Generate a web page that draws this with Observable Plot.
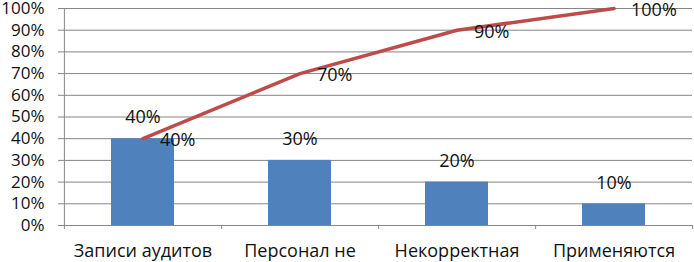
<!DOCTYPE html>
<html>
<head>
<meta charset="utf-8">
<script src="https://cdn.jsdelivr.net/npm/d3@7"></script>
<script src="https://cdn.jsdelivr.net/npm/@observablehq/plot@0.6"></script>
<style>
  html, body { margin: 0; padding: 0; background: #fff; }
</style>
</head>
<body>
<div id="chart"></div>
<script>
const categories = ["Записи аудитов", "Персонал не", "Некорректная", "Применяются"];
const shares = [0.40, 0.30, 0.20, 0.10];
const cumulative = [0.40, 0.70, 0.90, 1.00];
const yTicks = [0, 0.1, 0.2, 0.3, 0.4, 0.5, 0.6, 0.7, 0.8, 0.9, 1.0];

const data = categories.map((c, i) => ({cat: c, share: shares[i], cum: cumulative[i]}));
const fmt = d3.format(".0%");

const W = 694, H = 262, ML = 63, MR = 2, MT = 8, MB = 37;
const step = (W - ML - MR) / categories.length;
const grid = "#868686";
const font = "Open Sans";

const chart = Plot.plot({
  width: W, height: H,
  marginLeft: ML, marginRight: MR, marginTop: MT, marginBottom: MB,
  style: {fontFamily: font, fontSize: "17.5px", color: "#000", background: "#fff", overflow: "visible"},
  x: {domain: categories, paddingInner: 0.6, paddingOuter: 0.3, axis: null},
  y: {domain: [0, 1], axis: null},
  marks: [
    Plot.ruleY(yTicks, {stroke: grid, strokeWidth: 1}),
    Plot.ruleX([categories[0]], {x: d => d, dx: -step / 2, stroke: grid, strokeWidth: 1, insetBottom: -4}),
    Plot.axisY({ticks: yTicks, tickFormat: fmt, tickSize: 5, tickPadding: 14, stroke: grid, fill: "#111", fontSize: 17, label: null}),
    Plot.axisX({tickSize: 4, tickFormat: () => "", dx: step / 2, stroke: grid, label: null}),
    Plot.axisX({tickSize: 0, tickPadding: 19, fill: "#111", fontSize: 18, label: null}),
    Plot.barY(data, {x: "cat", y: "share", fill: "#4F81BD"}),
    Plot.line(data, {x: "cat", y: "cum", stroke: "#BE4B4A", strokeWidth: 3.5}),
    Plot.text(data, {x: "cat", y: "share", text: d => fmt(d.share), dy: -21, fill: "#111", fontSize: 18}),
    Plot.text(data, {x: "cat", y: "cum", text: d => fmt(d.cum), textAnchor: "start", dx: 17, dy: 2, fill: "#111", fontSize: 18})
  ]
});
document.getElementById("chart").appendChild(chart);
</script>
</body>
</html>
